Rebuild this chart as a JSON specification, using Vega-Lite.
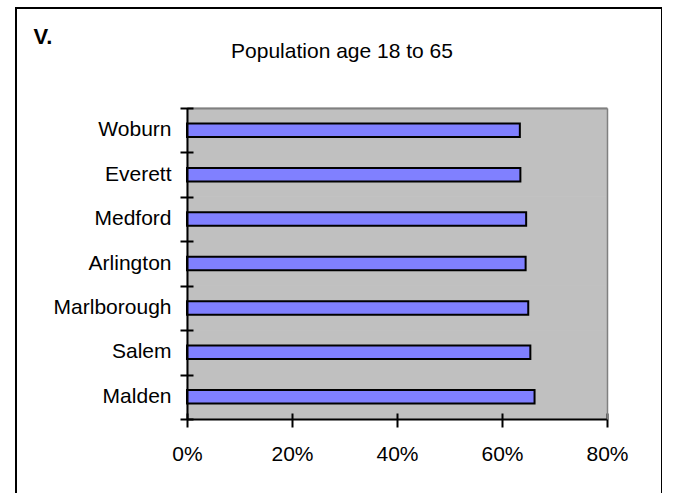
{
  "$schema": "https://vega.github.io/schema/vega-lite/v6.json",
  "autosize": "none",
  "padding": {"left": 16, "top": 8, "right": 0, "bottom": 0},
  "width": 646,
  "height": 500,
  "background": "#ffffff",
  "config": {
    "font": "Liberation Sans",
    "view": {"stroke": "#000000", "strokeWidth": 2},
    "axis": {"grid": false, "labelFont": "Liberation Sans", "titleFont": "Liberation Sans", "labelColor": "#000000", "titleColor": "#000000"}
  },
  "data": {
    "values": [
      {"city": "Woburn", "value": 0.634},
      {"city": "Everett", "value": 0.635},
      {"city": "Medford", "value": 0.646},
      {"city": "Arlington", "value": 0.645},
      {"city": "Marlborough", "value": 0.65},
      {"city": "Salem", "value": 0.654},
      {"city": "Malden", "value": 0.662}
    ]
  },
  "resolve": {"axis": {"x": "independent", "y": "independent"}},
  "layer": [
    {
      "mark": {"type": "bar", "fill": "#C0C0C0", "stroke": "#C0C0C0", "strokeWidth": 1},
      "encoding": {
        "y": {
          "field": "city", "type": "nominal", "sort": null,
          "scale": {"range": [100, 411], "paddingInner": 0, "paddingOuter": 0},
          "axis": {"orient": "left", "offset": -171, "title": null, "ticks": false, "tickSize": 0, "domain": true, "domainColor": "#000000", "domainWidth": 2, "labelPadding": 16, "labelFontSize": 21, "labelBaseline": "middle", "labelAlign": "right", "labelLimit": 300, "zindex": 1}
        },
        "x": {
          "datum": 0, "type": "quantitative",
          "scale": {"domain": [0, 0.8], "range": [171, 591], "nice": false, "zero": false},
          "axis": {"orient": "bottom", "offset": -89, "title": null, "ticks": false, "tickSize": 0, "domain": true, "domainColor": "#000000", "domainWidth": 2, "labelPadding": 41, "labelBaseline": "alphabetic", "labelFontSize": 21, "format": ".0%", "labelFlush": false, "values": [0, 0.2, 0.4, 0.6, 0.8], "zindex": 1}
        },
        "x2": {"datum": 0.8}
      }
    },
    {
      "mark": {"type": "bar", "fill": "#8080FF", "stroke": "#000000", "strokeWidth": 2, "size": 13.5},
      "encoding": {
        "y": {
          "field": "city", "type": "nominal", "sort": null,
          "axis": {"orient": "left", "offset": -177, "title": null, "labels": false, "domain": false, "ticks": true, "tickSize": 13, "tickWidth": 2, "tickColor": "#000000", "tickBand": "extent", "zindex": 1}
        },
        "x": {
          "field": "value", "type": "quantitative",
          "axis": {"orient": "bottom", "offset": -95, "title": null, "labels": false, "domain": false, "ticks": true, "tickSize": 14, "tickWidth": 2, "tickColor": "#000000", "values": [0, 0.2, 0.4, 0.6, 0.8], "zindex": 1}
        }
      }
    },
    {
      "mark": {"type": "point", "opacity": 0},
      "encoding": {
        "y": {
          "field": "city", "type": "nominal", "sort": null,
          "axis": {"orient": "right", "offset": -55, "labels": false, "ticks": false, "domain": true, "domainColor": "#808080", "domainWidth": 1.5, "zindex": 1, "title": "V.", "titleX": -574, "titleY": 35, "titleAngle": 0, "titleAlign": "left", "titleBaseline": "alphabetic", "titleFontSize": 22, "titleFontWeight": "bold"}
        },
        "x": {
          "field": "value", "type": "quantitative",
          "axis": {"orient": "top", "offset": -100, "labels": false, "ticks": false, "domain": true, "domainColor": "#808080", "domainWidth": 2, "zindex": 1, "title": "Population age 18 to 65", "titleX": 325.5, "titleY": -51, "titleAngle": 0, "titleAlign": "center", "titleBaseline": "alphabetic", "titleFontSize": 21, "titleFontWeight": "normal"}
        }
      }
    }
  ]
}
